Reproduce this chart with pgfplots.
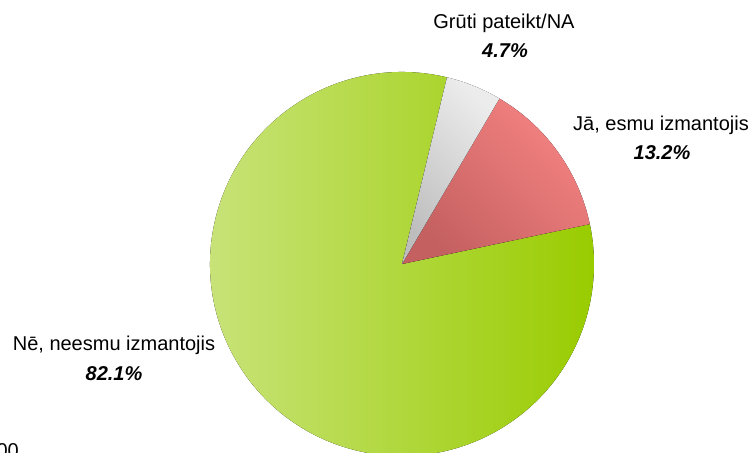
\documentclass[border=0pt]{standalone}
\usepackage{pgfplots}
\usepackage{pgfplotstable}
\pgfplotsset{compat=1.18}
\usepackage{fontspec}
\setmainfont{Liberation Sans}

% shares of answers, in percent
\pgfplotstableread{
share
13.2
4.7
82.1
}\piedata

\definecolor{greenL}{HTML}{CAE47E}
\definecolor{greenR}{HTML}{99CC00}
\definecolor{redL}{HTML}{F58282}
\definecolor{redD}{HTML}{C46060}
\definecolor{greyL}{HTML}{ECECEC}
\definecolor{greyD}{HTML}{BDBDBD}

\newcommand{\lbl}{\fontsize{20}{24}\selectfont}
\newcommand{\pct}[1]{{\lbl\bfseries\itshape\pgfmathprintnumber[fixed,precision=1,fixed zerofill,assume math mode=true]{#1}\%}}

\begin{document}
\begin{tikzpicture}
\useasboundingbox (0,0) rectangle (754pt,452pt);
\clip (0,0) rectangle (754pt,452pt);

\pgfplotstablegetelem{0}{share}\of\piedata \pgfmathsetmacro{\sA}{\pgfplotsretval}
\pgfplotstablegetelem{1}{share}\of\piedata \pgfmathsetmacro{\sB}{\pgfplotsretval}
\pgfplotstablegetelem{2}{share}\of\piedata \pgfmathsetmacro{\sC}{\pgfplotsretval}
\pgfmathsetmacro{\aO}{12}
\pgfmathsetmacro{\aA}{\aO+3.6*\sA}
\pgfmathsetmacro{\aB}{\aA+3.6*\sB}
\pgfmathsetmacro{\aC}{\aB+3.6*\sC}

\begin{axis}[
  x=1pt, y=1pt,
  xmin=0, xmax=754, ymin=0, ymax=452,
  scale only axis, hide axis, clip=false,
]
\fill[left color=greenL, right color=greenR]
  (axis cs:402,188) -- ++(\aB:192pt) arc[start angle=\aB, end angle=\aC, radius=192pt] -- cycle;
\fill[bottom color=redD, top color=redL, shading angle=-45]
  (axis cs:402,188) -- ++(\aO:192pt) arc[start angle=\aO, end angle=\aA, radius=192pt] -- cycle;
\fill[bottom color=greyD, top color=greyL, shading angle=-45]
  (axis cs:402,188) -- ++(\aA:192pt) arc[start angle=\aA, end angle=\aB, radius=192pt] -- cycle;

\node[anchor=base, inner sep=0pt] at (axis cs:114,101) {\lbl Nē, neesmu izmantojis};
\node[anchor=base, inner sep=0pt] at (axis cs:114,71) {\pct{\sC}};
\node[anchor=base, inner sep=0pt] at (axis cs:504,423) {\lbl Grūti pateikt/NA};
\node[anchor=base, inner sep=0pt] at (axis cs:505,394) {\pct{\sB}};
\node[anchor=base, inner sep=0pt] at (axis cs:661,321) {\lbl Jā, esmu izmantojis};
\node[anchor=base, inner sep=0pt] at (axis cs:662,292) {\pct{\sA}};
\node[anchor=base east, inner sep=0pt] at (axis cs:19,-5) {\lbl 100};
\end{axis}
\end{tikzpicture}
\end{document}
